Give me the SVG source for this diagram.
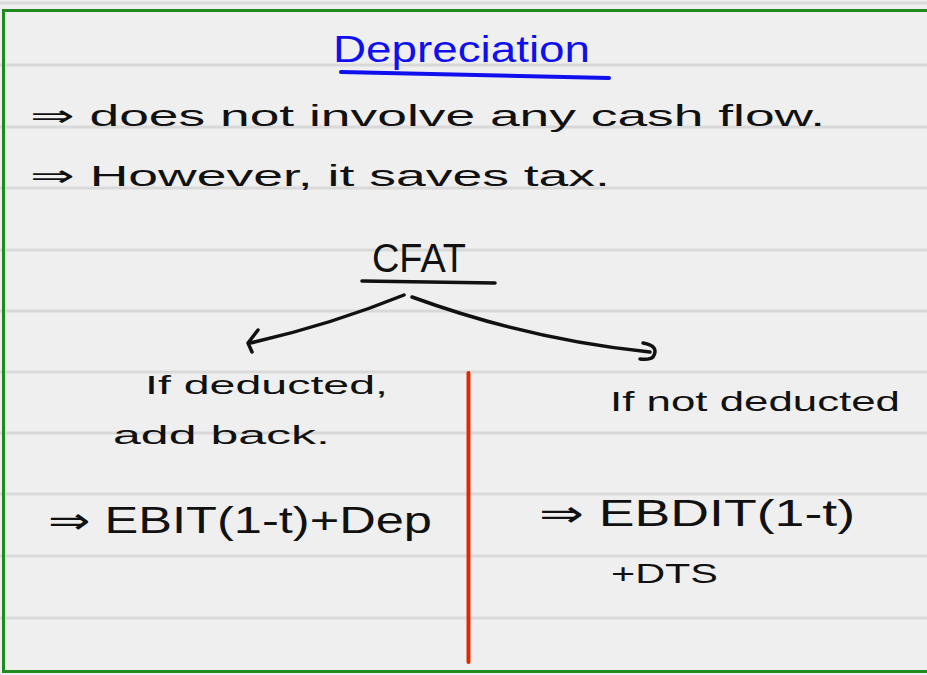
<svg xmlns="http://www.w3.org/2000/svg" width="927" height="675" viewBox="0 0 927 675">
<style>
.rule{stroke:#d9d9d9;stroke-width:3}
.t{font-family:"Liberation Sans","DejaVu Sans",sans-serif;fill:#111}
.ink{fill:none;stroke:#111;stroke-width:3.5;stroke-linecap:round;stroke-linejoin:round}
</style>
<rect x="0" y="0" width="927" height="675" fill="#efefef"/>
<g id="rules">
<line class="rule" x1="0" y1="3" x2="927" y2="3"/>
<line class="rule" x1="0" y1="65" x2="927" y2="65"/>
<line class="rule" x1="0" y1="127" x2="927" y2="127"/>
<line class="rule" x1="0" y1="188" x2="927" y2="188"/>
<line class="rule" x1="0" y1="250" x2="927" y2="250"/>
<line class="rule" x1="0" y1="311" x2="927" y2="311"/>
<line class="rule" x1="0" y1="372" x2="927" y2="372"/>
<line class="rule" x1="0" y1="433" x2="927" y2="433"/>
<line class="rule" x1="0" y1="494" x2="927" y2="494"/>
<line class="rule" x1="0" y1="556" x2="927" y2="556"/>
<line class="rule" x1="0" y1="618" x2="927" y2="618"/>
</g>
<rect x="3.5" y="10.5" width="930" height="661" fill="none" stroke="#1f8a1f" stroke-width="3"/>
<line x1="468.5" y1="373" x2="468.5" y2="662" stroke="#dd2a00" stroke-width="4" stroke-linecap="round"/>
<g id="title">
<text class="t" x="333" y="62" font-size="36" fill="#1010ee" style="fill:#1010ee" textLength="257" lengthAdjust="spacingAndGlyphs">Depreciation</text>
<line x1="341" y1="72" x2="609" y2="78" stroke="#1010ee" stroke-width="4" stroke-linecap="round"/>
</g>
<g id="bullets">
<text class="t" x="30" y="126" font-size="30" textLength="795" lengthAdjust="spacingAndGlyphs">⇒ does not involve any cash flow.</text>
<text class="t" x="30" y="186" font-size="30" textLength="580" lengthAdjust="spacingAndGlyphs">⇒ However, it saves tax.</text>
</g>
<g id="cfat">
<text class="t" x="372" y="272" font-size="40" textLength="94" lengthAdjust="spacingAndGlyphs">CFAT</text>
<line class="ink" x1="362" y1="281" x2="495" y2="283"/>
</g>
<g id="connectors">
<path class="ink" d="M404,295 Q330,325 250,343"/>
<path class="ink" d="M258,330 L248,343 L252,352"/>
<path class="ink" d="M412,297 Q530,340 650,352"/>
<path class="ink" d="M643,343 Q660,346 653,357 Q650,360 640,359"/>
</g>
<g id="left-branch">
<text class="t" x="145" y="394" font-size="25" textLength="243" lengthAdjust="spacingAndGlyphs">If deducted,</text>
<text class="t" x="113" y="444" font-size="25" textLength="217" lengthAdjust="spacingAndGlyphs">add back.</text>
<text class="t" x="48" y="533" font-size="36" textLength="384" lengthAdjust="spacingAndGlyphs">⇒ EBIT(1-t)+Dep</text>
</g>
<g id="right-branch">
<text class="t" x="610" y="411" font-size="28" textLength="290" lengthAdjust="spacingAndGlyphs">If not deducted</text>
<text class="t" x="539" y="526" font-size="36" textLength="316" lengthAdjust="spacingAndGlyphs">⇒ EBDIT(1-t)</text>
<text class="t" x="611" y="583" font-size="28" textLength="107" lengthAdjust="spacingAndGlyphs">+DTS</text>
</g>
</svg>
